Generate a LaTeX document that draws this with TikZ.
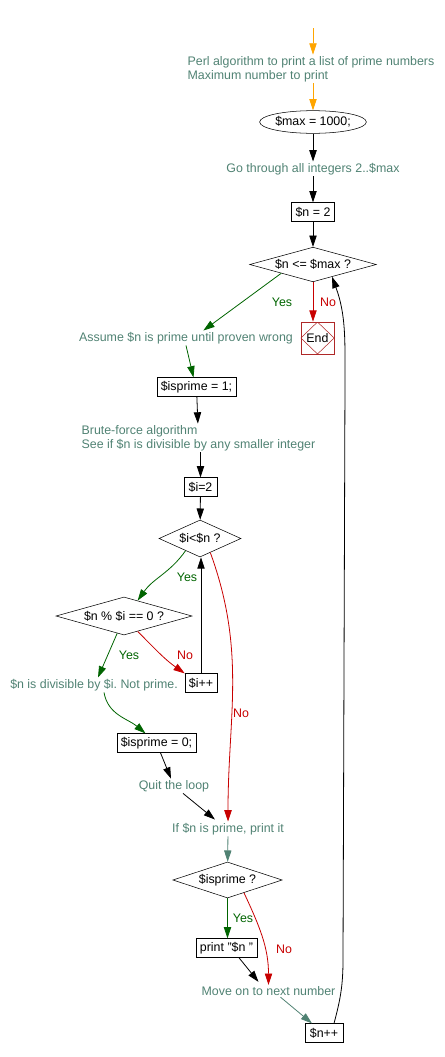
\documentclass[tikz,border=0pt]{standalone}
\usepackage{fontspec}
\setmainfont{Liberation Sans}
\usepackage{xcolor}
\usetikzlibrary{shapes.geometric,arrows.meta,calc}
\frenchspacing

\definecolor{cmtcol}{RGB}{80,130,115}
\definecolor{yescol}{RGB}{0,100,0}
\definecolor{nocol}{RGB}{200,0,0}
\definecolor{endcol}{RGB}{175,40,40}
\definecolor{startcol}{RGB}{255,165,0}

\begin{document}
\begin{tikzpicture}[x=0.75pt,y=0.75pt,font=\fontsize{9.3}{10.5}\selectfont,
  comment/.style={text=cmtcol,inner sep=1pt},
  procbox/.style={draw,rectangle,minimum height=14pt,inner sep=0pt},
  decision/.style={draw,diamond,inner sep=0pt},
  endbox/.style={draw=endcol,minimum width=25pt,minimum height=24pt,inner sep=0pt,
    path picture={\draw[endcol] (path picture bounding box.north) -- (path picture bounding box.east)
      -- (path picture bounding box.south) -- (path picture bounding box.west) -- cycle;}},
  arr/.style={-{Triangle[length=8.5pt,width=5.5pt]},line width=0.6pt},
  yesarr/.style={arr,yescol},
  noarr/.style={arr,nocol},
  cmtarr/.style={arr,cmtcol},
  startarr/.style={arr,startcol},
  yeslbl/.style={text=yescol,inner sep=1pt},
  nolbl/.style={text=nocol,inner sep=1pt}]
  \useasboundingbox (0,0) rectangle (444,-1057);
  \coordinate (start) at (313,-28);
  \node[comment,align=left,anchor=west] (intro) at (186,-69) {Perl algorithm to print a list of prime numbers\\Maximum number to print};
  \node[draw,ellipse,minimum width=67pt,minimum height=17pt,inner sep=0pt] (max) at (313,-122) {\$max = 1000;};
  \node[comment] (range) at (313,-169) {Go through all integers 2..\$max};
  \node[procbox,minimum width=32pt] (n2) at (313,-212) {\$n = 2};
  \node[decision,aspect=3.65,minimum width=95pt,minimum height=26pt] (test1) at (313,-264.5) {\$n <= \$max ?};
  \node[endbox] (end) at (317.5,-338) {End};
  \node[comment] (assume) at (186,-338) {Assume \$n is prime until proven wrong};
  \node[procbox,minimum width=59pt] (isp1) at (196.5,-387) {\$isprime = 1;};
  \node[comment,align=left,anchor=west] (brute) at (80,-438) {Brute-force algorithm\\See if \$n is divisible by any smaller integer};
  \node[procbox,minimum width=25pt] (i2) at (200.5,-487) {\$i=2};
  \node[decision,aspect=2.2,minimum width=61.5pt,minimum height=27.75pt] (test2) at (200,-538.5) {\$i<\$n ?};
  \node[decision,aspect=3.6,minimum width=102pt,minimum height=28.5pt] (test3) at (124,-616) {\$n \% \$i == 0 ?};
  \node[procbox,minimum width=24pt] (iinc) at (201,-683) {\$i++};
  \node[comment] (divis) at (94,-685) {\$n is divisible by \$i. Not prime.};
  \node[procbox,minimum width=59pt] (isp0) at (156.5,-743) {\$isprime = 0;};
  \node[comment] (quit) at (174,-786) {Quit the loop};
  \node[comment] (ifprime) at (228,-829) {If \$n is prime, print it};
  \node[decision,aspect=3.04,minimum width=82pt,minimum height=27pt] (test4) at (227.5,-880) {\$isprime ?};
  \node[procbox,minimum width=46pt] (printn) at (226.5,-948) {print "\$n "};
  \node[comment] (move) at (268.5,-991) {Move on to next number};
  \node[procbox,minimum width=28.5pt] (ninc) at (324,-1033) {\$n++};

  \node[yeslbl] (yes1) at (282,-302) {Yes};
  \node[nolbl] (no1) at (328,-302) {No};
  \node[yeslbl] (yes2) at (187,-577) {Yes};
  \node[yeslbl] (yes3) at (129,-655) {Yes};
  \node[nolbl] (no3) at (185,-655) {No};
  \node[nolbl] (no2) at (241,-713) {No};
  \node[yeslbl] (yes4) at (243,-918) {Yes};
  \node[nolbl] (no4) at (284,-949) {No};

  \draw[startarr] (start) -- (start |- intro.north);
  \draw[startarr] (intro.south -| max) -- (max);
  \draw[arr] (max) -- (range);
  \draw[arr] (range) -- (n2);
  \draw[arr] (n2) -- (test1);
  \draw[yesarr] (test1.south west) -- ($(assume.north west)!0.58!(assume.north east)$);
  \draw[noarr] (test1.south) -- (test1.south |- end.north);
  \draw[yesarr] (assume.south) -- ($(isp1.north)+(-3,0)$);
  \draw[arr] (isp1) -- (brute);
  \draw[arr] (brute.south -| i2) -- (i2);
  \draw[arr] (i2) -- (test2);
  \draw[yesarr] ($(test2.south)!0.35!(test2.west)$) to[out=-125,in=55] ($(test3.north)!0.2!(test3.east)$);
  \draw[yesarr] ($(test3.south)!0.1!(test3.west)$) -- ($(divis.north)+(4,0)$);
  \draw[noarr] ($(test3.south)!0.2!(test3.east)$) to[out=-45,in=145] (iinc.north west);
  \draw[arr] (iinc.north) -- (iinc.north |- test2.south);
  \draw[noarr] ($(test2.south)!0.25!(test2.east)$) to[out=-70,in=90] (ifprime.north);
  \draw[yesarr] ($(divis.south)+(10,0)$) to[out=-80,in=140] ($(isp0.north)+(-11,0)$);
  \draw[arr] (isp0) -- (quit);
  \draw[arr] (quit) -- ($(ifprime.north)+(-13,2)$);
  \draw[cmtarr] (ifprime) -- (test4);
  \draw[yesarr] (test4.south) -- (test4.south |- printn.north);
  \draw[noarr] ($(test4.south)!0.3!(test4.east)$) to[out=-65,in=90] (move.north);
  \draw[arr] ($(printn.south)!0.4!(printn.south east)$) -- ($(move.north)+(-10,3)$);
  \draw[cmtarr] ($(move.south)+(12,0)$) -- ($(ninc.north)+(-12,0)$);
  \draw[arr] ($(ninc.north)+(10,0)$) to[out=75,in=-90] (343,-960) -- (345,-380)
    to[out=90,in=-70] ($(test1.south)!0.3!(test1.east)$);
\end{tikzpicture}
\end{document}
